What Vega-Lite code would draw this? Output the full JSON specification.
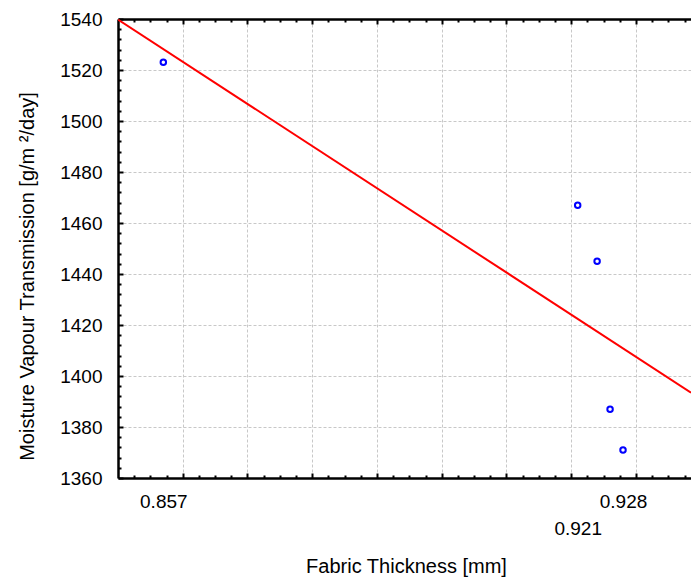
{
  "$schema": "https://vega.github.io/schema/vega-lite/v6.json",
  "width": 573,
  "height": 459,
  "autosize": "none",
  "padding": {"left": 118, "top": 19, "right": 0, "bottom": 101},
  "background": "white",
  "config": {
    "view": {"stroke": null},
    "font": "Liberation Sans",
    "axis": {"labelFont": "Liberation Sans", "titleFont": "Liberation Sans", "labelColor": "black", "titleColor": "black", "titleFontWeight": "normal"}
  },
  "data": {"values": [
    {"thickness": 0.857, "mvt": 1523},
    {"thickness": 0.921, "mvt": 1467},
    {"thickness": 0.924, "mvt": 1445},
    {"thickness": 0.926, "mvt": 1387},
    {"thickness": 0.928, "mvt": 1371}
  ]},
  "resolve": {"axis": {"x": "independent", "y": "independent"}},
  "layer": [
    {
      "transform": [{"regression": "mvt", "on": "thickness", "extent": [0.85, 0.9385]}],
      "mark": {"type": "line", "color": "#ff0000", "strokeWidth": 2, "clip": true},
      "encoding": {
        "x": {"field": "thickness", "type": "quantitative",
          "scale": {"domain": [0.85, 0.9385], "nice": false, "zero": false},
          "axis": {"orient": "bottom", "values": [0.86, 0.87, 0.88, 0.89, 0.9, 0.91, 0.92, 0.93], "labels": false, "title": null,
            "grid": true, "gridColor": "#c8c8c8", "gridDash": [3, 2], "gridWidth": 1,
            "ticks": true, "tickSize": -5, "tickColor": "black", "tickWidth": 2,
            "domain": true, "domainColor": "black", "domainWidth": 2.5}},
        "y": {"field": "mvt", "type": "quantitative",
          "scale": {"domain": [1360, 1540], "nice": false, "zero": false},
          "axis": {"orient": "left", "values": [1360, 1380, 1400, 1420, 1440, 1460, 1480, 1500, 1520, 1540], "labels": false, "title": null,
            "grid": true, "gridColor": "#c8c8c8", "gridDash": [3, 2], "gridWidth": 1,
            "ticks": true, "tickSize": -5, "tickColor": "black", "tickWidth": 2,
            "domain": true, "domainColor": "black", "domainWidth": 2.5}}
      }
    },
    {
      "mark": {"type": "point", "opacity": 0},
      "encoding": {
        "x": {"field": "thickness", "type": "quantitative",
          "scale": {"domain": [0.85, 0.9385], "nice": false, "zero": false},
          "axis": {"orient": "bottom", "values": [0.8525, 0.855, 0.8575, 0.8625, 0.865, 0.8675, 0.8725, 0.875, 0.8775, 0.8825, 0.885, 0.8875, 0.8925, 0.895, 0.8975, 0.9025, 0.905, 0.9075, 0.9125, 0.915, 0.9175, 0.9225, 0.925, 0.9275, 0.9325, 0.935, 0.9375],
            "labels": false, "title": null, "grid": false, "domain": false,
            "ticks": true, "tickSize": -3, "tickColor": "black", "tickWidth": 2}},
        "y": {"field": "mvt", "type": "quantitative",
          "scale": {"domain": [1360, 1540], "nice": false, "zero": false},
          "axis": {"orient": "left", "values": [1364, 1368, 1372, 1376, 1384, 1388, 1392, 1396, 1404, 1408, 1412, 1416, 1424, 1428, 1432, 1436, 1444, 1448, 1452, 1456, 1464, 1468, 1472, 1476, 1484, 1488, 1492, 1496, 1504, 1508, 1512, 1516, 1524, 1528, 1532, 1536],
            "labels": false, "title": null, "grid": false, "domain": false,
            "ticks": true, "tickSize": -3, "tickColor": "black", "tickWidth": 2}}
      }
    },
    {
      "mark": {"type": "point", "opacity": 0},
      "encoding": {
        "x": {"field": "thickness", "type": "quantitative",
          "scale": {"domain": [0.85, 0.9385], "nice": false, "zero": false},
          "axis": {"orient": "top", "values": [0.86, 0.87, 0.88, 0.89, 0.9, 0.91, 0.92, 0.93], "labels": false, "title": null,
            "grid": false, "ticks": true, "tickSize": -5, "tickColor": "black", "tickWidth": 2,
            "domain": true, "domainColor": "black", "domainWidth": 2.5}},
        "y": {"field": "mvt", "type": "quantitative",
          "scale": {"domain": [1360, 1540], "nice": false, "zero": false},
          "axis": {"orient": "left", "values": [1360, 1380, 1400, 1420, 1440, 1460, 1480, 1500, 1520, 1540], "format": "d",
            "labels": true, "labelFontSize": 19, "labelPadding": 16, "tickSize": 0, "ticks": false, "grid": false, "domain": false,
            "title": "Moisture Vapour Transmission [g/m  ²/day]", "titleFontSize": 20,
            "titleX": -91, "titleY": 257, "titleAngle": -90, "titleBaseline": "middle", "titleAlign": "center"}}
      }
    },
    {
      "mark": {"type": "point", "opacity": 0},
      "encoding": {
        "x": {"field": "thickness", "type": "quantitative",
          "scale": {"domain": [0.85, 0.9385], "nice": false, "zero": false},
          "axis": {"orient": "top", "values": [0.8525, 0.855, 0.8575, 0.8625, 0.865, 0.8675, 0.8725, 0.875, 0.8775, 0.8825, 0.885, 0.8875, 0.8925, 0.895, 0.8975, 0.9025, 0.905, 0.9075, 0.9125, 0.915, 0.9175, 0.9225, 0.925, 0.9275, 0.9325, 0.935, 0.9375],
            "labels": false, "title": null, "grid": false, "domain": false,
            "ticks": true, "tickSize": -3, "tickColor": "black", "tickWidth": 2}},
        "y": {"field": "mvt", "type": "quantitative",
          "scale": {"domain": [1360, 1540], "nice": false, "zero": false}, "axis": null}
      }
    },
    {
      "mark": {"type": "point", "shape": "circle", "filled": false, "color": "#0000ff", "strokeWidth": 2, "size": 30, "opacity": 1},
      "encoding": {
        "x": {"field": "thickness", "type": "quantitative",
          "scale": {"domain": [0.85, 0.9385], "nice": false, "zero": false},
          "axis": {"orient": "bottom", "values": [0.857, 0.921, 0.928], "format": ".3f",
            "labels": true, "labelFontSize": 19, "labelBaseline": "top", "labelAlign": "center",
            "labelPadding": {"condition": {"test": "datum.value > 0.92 && datum.value < 0.922", "value": 41}, "value": 14},
            "ticks": false, "tickSize": 0, "grid": false, "domain": false,
            "title": "Fabric Thickness [mm]", "titleFontSize": 20,
            "titleX": 288, "titleY": 88, "titleBaseline": "middle", "titleAlign": "center"}},
        "y": {"field": "mvt", "type": "quantitative",
          "scale": {"domain": [1360, 1540], "nice": false, "zero": false}, "axis": null}
      }
    }
  ]
}
